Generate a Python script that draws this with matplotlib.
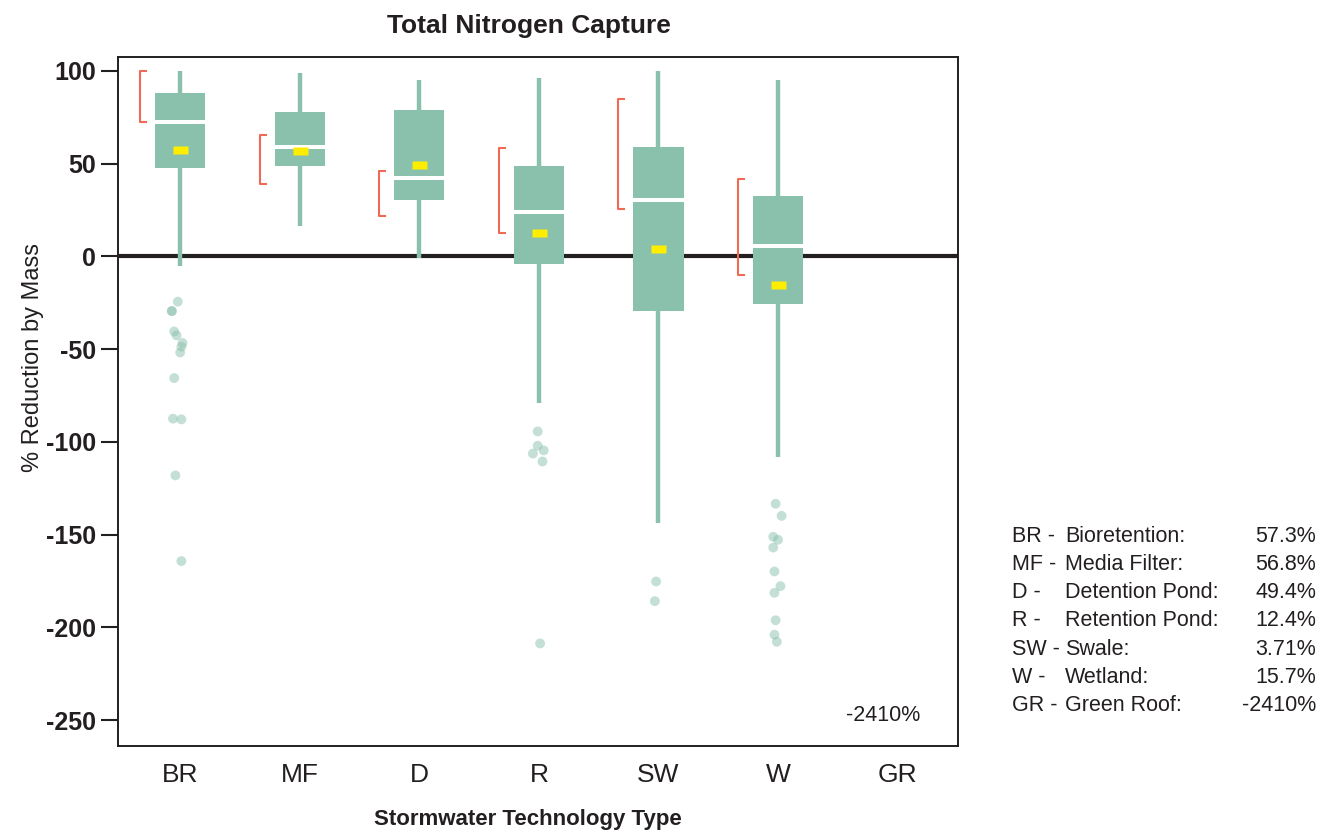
import numpy as np
import matplotlib
matplotlib.use('Agg')
import matplotlib.pyplot as plt
from matplotlib.path import Path

plt.rcParams['font.family'] = ['Liberation Sans', 'DejaVu Sans']
plt.rcParams['axes.unicode_minus'] = False

# technology codes and legend text
codes = ["BR", "MF", "D", "R", "SW", "W", "GR"]
names = ["Bioretention:", "Media Filter:", "Detention Pond:", "Retention Pond:",
         "Swale:", "Wetland:", "Green Roof:"]
mean_labels = ["57.3%", "56.8%", "49.4%", "12.4%", "3.71%", "15.7%", "-2410%"]

# box statistics (% reduction by mass), GR has no box
whis_hi = [100, 99, 95, 96, 100, 95]
q3      = [88, 78, 79, 48.5, 59, 32.5]
medians = [72.3, 59.2, 42, 24, 30.2, 5.8]
q1      = [47.5, 48.5, 30.2, -4, -29.7, -25.7]
whis_lo = [-5, 16.2, -1, -79.3, -143.5, -108]
means   = [57.3, 56.8, 49.4, 12.4, 3.71, -15.7]

# bracket ranges drawn left of each box
ci_lo = [72.4, 39, 22, 12.8, 25.4, -10.2]
ci_hi = [100, 65.6, 45.8, 58.4, 85, 41.9]

# outliers and their horizontal jitter
out_br = [-24.4, -29.5, -29.5, -40.5, -42.6, -46.7, -48.7, -51.8, -65.6, -87.5, -87.9, -118.1, -164.3]
jit_br = [-0.02, -0.07, -0.07, -0.05, -0.03, 0.02, 0.01, 0.0, -0.05, -0.06, 0.01, -0.04, 0.01]
out_r  = [-94.4, -102.1, -106.3, -104.6, -110.6, -208.7]
jit_r  = [-0.01, -0.01, -0.05, 0.04, 0.03, 0.01]
out_sw = [-175.3, -185.9]
jit_sw = [-0.02, -0.03]
out_w  = [-133.4, -139.9, -151.2, -152.8, -157.0, -169.9, -177.8, -181.4, -196.2, -204.0, -207.8]
jit_w  = [-0.02, 0.03, -0.04, 0.0, -0.04, -0.03, 0.02, -0.03, -0.02, -0.03, -0.01]
outliers = [out_br, [], [], out_r, out_sw, out_w]
jitters  = [jit_br, [], [], jit_r, jit_sw, jit_w]

green  = '#8AC1AC'
yellow = '#FFED00'
red    = '#EE6A55'
dark   = '#231F20'

fig = plt.figure(figsize=(13.21, 8.34), dpi=100)
ax = fig.add_axes([118/1321, 1-746/834, 840/1321, 689/834])

pos = np.arange(len(codes))
stats = []
for i in range(len(medians)):
    stats.append(dict(med=medians[i], q1=q1[i], q3=q3[i], whislo=whis_lo[i],
                      whishi=whis_hi[i], mean=means[i], fliers=[]))

rect = Path([(-1, -0.53), (1, -0.53), (1, 0.53), (-1, 0.53), (-1, -0.53)],
            [Path.MOVETO, Path.LINETO, Path.LINETO, Path.LINETO, Path.CLOSEPOLY])

ax.axhline(0, color=dark, lw=3, zorder=1.5)

ax.bxp(stats, positions=pos[:len(stats)], widths=0.42, patch_artist=True,
       showcaps=False, showfliers=False, showmeans=True,
       boxprops=dict(facecolor=green, edgecolor='none', linewidth=0),
       whiskerprops=dict(color=green, linewidth=3.2, solid_capstyle='butt'),
       medianprops=dict(color='white', linewidth=2.9, solid_capstyle='butt'),
       meanprops=dict(marker=rect, markersize=10.8, markerfacecolor=yellow,
                      markeredgecolor='none'),
       zorder=2)

for i, (vals, jit) in enumerate(zip(outliers, jitters)):
    if vals:
        ax.scatter(pos[i] + np.array(jit), vals, s=50, color=green, alpha=0.5,
                   edgecolors='none', zorder=3)

# brackets
for i in range(len(ci_lo)):
    x0 = pos[i] - 0.335
    ax.plot([x0 + 0.05, x0, x0, x0 + 0.05], [ci_hi[i], ci_hi[i], ci_lo[i], ci_lo[i]],
            color=red, lw=1.5, zorder=3)

ax.text(pos[6] - 0.12, -247.6, "-2410%", ha='center', va='center', fontsize=15.5,
        color=dark)

ax.set_xlim(-0.52, 6.505)
ax.set_ylim(-264, 107.5)
ax.set_yticks(np.arange(-250, 101, 50))
ax.set_xticks(pos)
ax.set_xticklabels(codes, fontsize=19, color=dark)
for lab in ax.get_yticklabels():
    lab.set_fontsize(18)
    lab.set_fontweight('bold')
    lab.set_color(dark)
ax.tick_params(axis='y', length=12, width=1.5, color=dark, pad=4, direction='out')
ax.tick_params(axis='x', length=0, pad=12)
for sp in ax.spines.values():
    sp.set_color(dark)
    sp.set_linewidth(1.4)

fig.text(529/1321, 1-26/834, "Total Nitrogen Capture", ha='center', va='center',
         fontsize=19, fontweight='bold', color=dark)
fig.text(528/1321, 1-820/834, "Stormwater Technology Type", ha='center', va='center',
         fontsize=16, fontweight='bold', color=dark)
fig.text(33/1321, 1-357/834, "% Reduction by Mass", ha='center', va='center',
         rotation=90, fontsize=17, color=dark)

# legend table on the right
for k in range(len(codes)):
    y = 1 - (536 + k*28.3)/834
    fig.text(1012/1321, y, codes[k] + " -", ha='left', va='center', fontsize=15.5, color=dark)
    fig.text(1065/1321, y, names[k], ha='left', va='center', fontsize=15.5, color=dark)
    fig.text(1316/1321, y, mean_labels[k], ha='right', va='center', fontsize=15.5, color=dark)

fig.savefig("out.png", dpi=100)
